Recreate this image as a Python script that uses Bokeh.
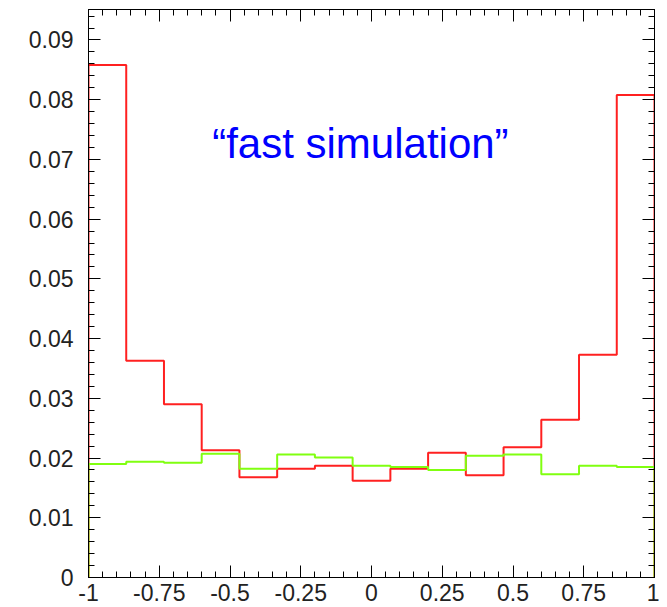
from bokeh.plotting import figure
from bokeh.models import LinearAxis, SingleIntervalTicker, Range1d, Label, CustomLabelingPolicy
from bokeh.embed import file_html
from bokeh.resources import INLINE

# 15 bins from -1 to 1
bin_edges = [-1 + 2 * i / 15 for i in range(16)]
red_values = [0.0858, 0.0363, 0.0290, 0.0213, 0.0168, 0.0182, 0.0187, 0.0162,
              0.0182, 0.0209, 0.0171, 0.0218, 0.0264, 0.0373, 0.0808]
green_values = [0.0190, 0.0194, 0.0192, 0.0207, 0.0182, 0.0206, 0.0201, 0.0187,
                0.0185, 0.0180, 0.0204, 0.0206, 0.0173, 0.0187, 0.0185]
x_tick_labels = {-1: "-1", -0.75: "-0.75", -0.5: "-0.5", -0.25: "-0.25", 0: "0",
                 0.25: "0.25", 0.5: "0.5", 0.75: "0.75", 1: "1"}
annotation = "\u201cfast simulation\u201d"


def outline(edges, vals):
    xs, ys = [edges[0]], [0]
    for i, v in enumerate(vals):
        xs += [edges[i], edges[i + 1]]
        ys += [v, v]
    xs.append(edges[-1])
    ys.append(0)
    return xs, ys


p = figure(width=659, height=607, output_backend="svg", toolbar_location=None,
           x_range=Range1d(-1, 1), y_range=Range1d(0, 0.0951),
           x_axis_type=None, y_axis_type=None,
           min_border_left=88, min_border_right=3, min_border_top=9, min_border_bottom=30)
p.background_fill_color = "white"
p.border_fill_color = "white"
p.outline_line_color = "black"
p.outline_line_width = 1
p.xgrid.visible = False
p.ygrid.visible = False

FONT = "Liberation Sans"


def style_axis(ax, labels=True):
    ax.axis_line_color = "black"
    ax.axis_line_width = 1
    ax.major_tick_in = 12
    ax.major_tick_out = 0
    ax.minor_tick_in = 6
    ax.minor_tick_out = 0
    ax.major_tick_line_color = "black"
    ax.minor_tick_line_color = "black"
    ax.major_label_text_font = FONT
    ax.major_label_text_color = "#222222"
    if labels:
        ax.major_label_text_font_size = "23px"
    else:
        ax.major_label_text_font_size = "1px"
        ax.major_label_standoff = 0
        ax.major_label_policy = CustomLabelingPolicy(code="return new Set()")


xb = LinearAxis(ticker=SingleIntervalTicker(interval=0.25, num_minor_ticks=5))
style_axis(xb)
xb.major_label_standoff = 6
xb.major_label_overrides = x_tick_labels
p.add_layout(xb, "below")

xa = LinearAxis(ticker=SingleIntervalTicker(interval=0.25, num_minor_ticks=5))
style_axis(xa, labels=False)
p.add_layout(xa, "above")

yl = LinearAxis(ticker=SingleIntervalTicker(interval=0.01, num_minor_ticks=5))
style_axis(yl)
yl.major_label_standoff = 15
p.add_layout(yl, "left")

yr = LinearAxis(ticker=SingleIntervalTicker(interval=0.01, num_minor_ticks=5))
style_axis(yr, labels=False)
p.add_layout(yr, "right")

rx, ry = outline(bin_edges, red_values)
gx, gy = outline(bin_edges, green_values)
p.line(rx, ry, line_color="#ff2020", line_width=2)
p.line(gx, gy, line_color="#80ff10", line_width=2)

p.add_layout(Label(x=-0.563, y=0.0727, text=annotation, text_font=FONT,
                   text_font_size="42px", text_color="#0000ff",
                   text_align="left", text_baseline="alphabetic"))

open("out.html", "w").write(file_html(p, INLINE))
